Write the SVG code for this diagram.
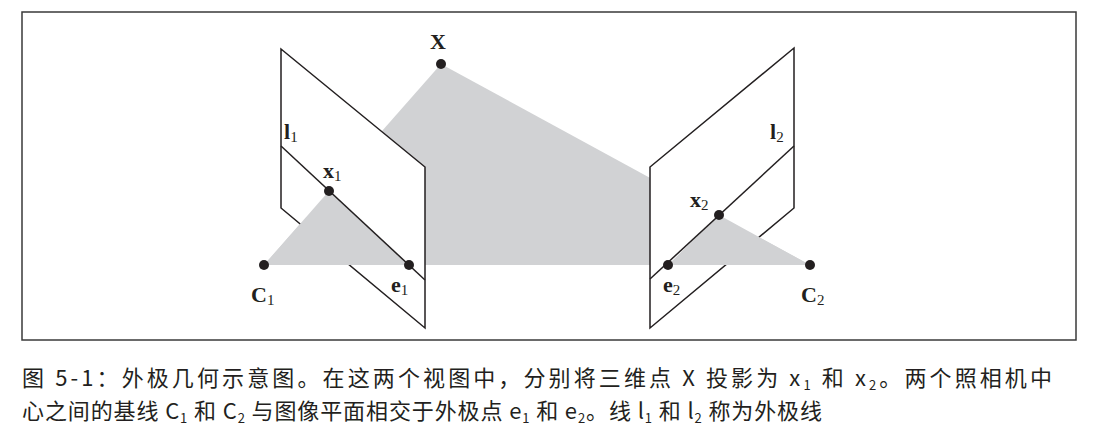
<svg xmlns="http://www.w3.org/2000/svg" width="1097" height="444" viewBox="0 0 1097 444">
<style>
.l{fill:none;stroke:#231f20;stroke-width:1.5}
.p{fill:#fff;stroke:#231f20;stroke-width:1.5}
.g{fill:#d1d2d4}
.d{fill:#231f20}
.t{font-family:"Liberation Serif",serif;font-weight:bold;font-size:22px;fill:#231f20}
.s{font-weight:normal;font-size:15px}
.c{font-family:"Noto Sans CJK SC",sans-serif;font-size:22px;fill:#231f20}
.cs{font-size:13px}
</style>
<rect x="22" y="12" width="1054" height="328" fill="#fff" stroke="#3a3a3a" stroke-width="1.5"/>
<polygon class="g" points="441,64 264,265 810,265"/>
<g id="plane1">
<polygon class="p" points="281,49 425,167 425,328 281,208"/>
<polygon class="g" points="264,265 329,191 409,265"/>
<line class="l" x1="281" y1="146" x2="425" y2="280"/>
</g>
<g id="plane2">
<polygon class="p" points="794,48 794,208 650,328 650,167"/>
<polygon class="g" points="668,265 719,215 810,265"/>
<line class="l" x1="650" y1="279" x2="794" y2="146"/>
</g>
<g id="points">
<circle class="d" cx="441" cy="64" r="5"/>
<circle class="d" cx="329" cy="191" r="5"/>
<circle class="d" cx="409" cy="265" r="5"/>
<circle class="d" cx="264" cy="265" r="5"/>
<circle class="d" cx="719" cy="215" r="5"/>
<circle class="d" cx="668" cy="265" r="5"/>
<circle class="d" cx="810" cy="265" r="5"/>
</g>
<g id="labels">
<text class="t" x="430" y="49">X</text>
<text class="t" x="284" y="139">l<tspan class="s" dy="3">1</tspan></text>
<text class="t" x="323" y="178">x<tspan class="s" dy="3">1</tspan></text>
<text class="t" x="251" y="302">C<tspan class="s" dy="3">1</tspan></text>
<text class="t" x="391" y="292">e<tspan class="s" dy="3">1</tspan></text>
<text class="t" x="770" y="139">l<tspan class="s" dy="3">2</tspan></text>
<text class="t" x="690" y="207">x<tspan class="s" dy="3">2</tspan></text>
<text class="t" x="663" y="292">e<tspan class="s" dy="3">2</tspan></text>
<text class="t" x="801" y="302">C<tspan class="s" dy="3">2</tspan></text>
</g>
<text class="c" x="22" y="386" textLength="1030" lengthAdjust="spacing">图 5-1：外极几何示意图。在这两个视图中，分别将三维点 X 投影为 x<tspan class="cs" dy="4">1</tspan><tspan dy="-4"> 和 x</tspan><tspan class="cs" dy="4">2</tspan><tspan dy="-4">。两个照相机中</tspan></text>
<text class="c" x="22" y="419" textLength="800" lengthAdjust="spacing">心之间的基线 C<tspan class="cs" dy="4">1</tspan><tspan dy="-4"> 和 C</tspan><tspan class="cs" dy="4">2</tspan><tspan dy="-4"> 与图像平面相交于外极点 e</tspan><tspan class="cs" dy="4">1</tspan><tspan dy="-4"> 和 e</tspan><tspan class="cs" dy="4">2</tspan><tspan dy="-4">。线 l</tspan><tspan class="cs" dy="4">1</tspan><tspan dy="-4"> 和 l</tspan><tspan class="cs" dy="4">2</tspan><tspan dy="-4"> 称为外极线</tspan></text>
</svg>
